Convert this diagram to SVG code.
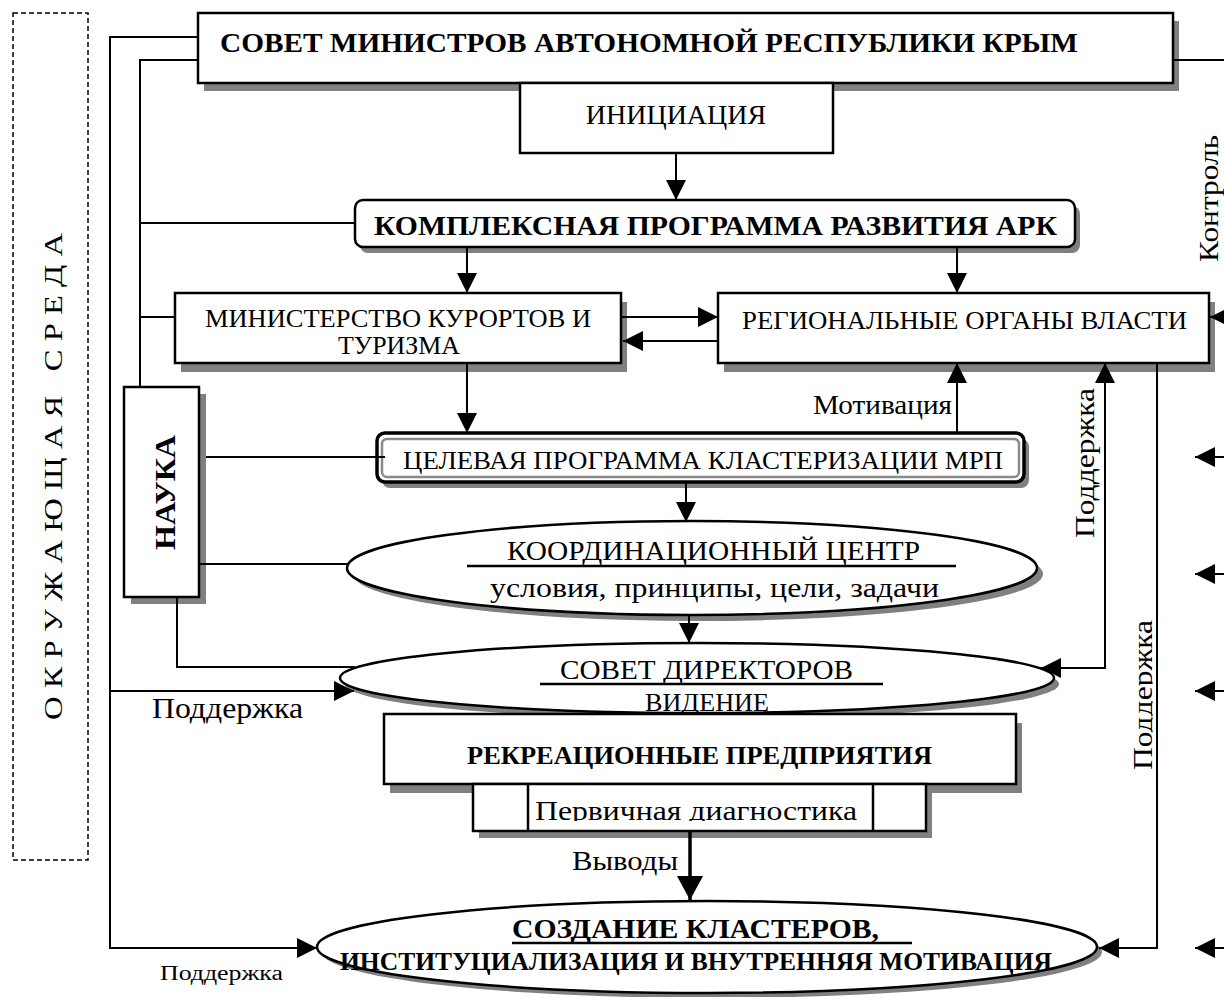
<svg xmlns="http://www.w3.org/2000/svg" width="1224" height="997" viewBox="0 0 1224 997">
<defs>
<style>
.t{font-family:"Liberation Serif","Times New Roman",serif;fill:#000}
.b{font-weight:bold}
.box{fill:#fff;stroke:#000;stroke-width:2.5}
.sh{fill:#808080}
.ln{fill:none;stroke:#000;stroke-width:2}
.ul{stroke:#000;stroke-width:2.5}
</style>
<marker id="ah" viewBox="0 0 20 20" refX="20" refY="10" markerWidth="20" markerHeight="20" markerUnits="userSpaceOnUse" orient="auto-start-reverse"><path d="M0,0 L20,10 L0,20 z" fill="#000"/></marker>
<marker id="ahb" viewBox="0 0 24 26" refX="24" refY="13" markerWidth="24" markerHeight="26" markerUnits="userSpaceOnUse" orient="auto"><path d="M0,0 L24,13 L0,26 z" fill="#000"/></marker>
<clipPath id="clipPerv"><rect x="528" y="784" width="345" height="37"/></clipPath>
<clipPath id="clipPod2"><rect x="1100" y="600" width="52.5" height="200"/></clipPath>
</defs>
<rect width="1224" height="997" fill="#fff"/>

<g id="env">
<rect x="13" y="13" width="75" height="847" fill="none" stroke="#000" stroke-width="1.5" stroke-dasharray="5,3"/>
<text class="t" transform="translate(62,720) rotate(-90)" font-size="26" textLength="487" lengthAdjust="spacingAndGlyphs" style="white-space:pre">О К Р У Ж А Ю Щ А Я   С Р Е Д А</text>
</g>

<g id="sovmin">
<rect class="sh" x="204" y="21" width="975" height="70"/>
<rect class="box" x="198" y="13" width="975" height="70"/>
<text class="t b" x="220" y="52" font-size="28" textLength="858" lengthAdjust="spacingAndGlyphs">СОВЕТ МИНИСТРОВ АВТОНОМНОЙ РЕСПУБЛИКИ КРЫМ</text>
</g>

<g id="init">
<rect class="box" x="520" y="83" width="313" height="70" stroke-width="2"/>
<text class="t" x="676" y="124" font-size="28" text-anchor="middle">ИНИЦИАЦИЯ</text>
</g>

<g id="kpr">
<rect class="sh" x="360" y="206" width="720" height="47" rx="8"/>
<rect class="box" x="355" y="200" width="720" height="47" rx="8"/>
<text class="t b" x="374" y="235" font-size="28" textLength="683" lengthAdjust="spacingAndGlyphs">КОМПЛЕКСНАЯ ПРОГРАММА РАЗВИТИЯ АРК</text>
</g>

<g id="ministry">
<rect class="sh" x="181" y="302" width="446" height="70"/>
<rect class="box" x="175" y="293" width="446" height="70"/>
<text class="t" x="205" y="327" font-size="25" textLength="386" lengthAdjust="spacingAndGlyphs">МИНИСТЕРСТВО КУРОРТОВ И</text>
<text class="t" x="338" y="354" font-size="25" textLength="122" lengthAdjust="spacingAndGlyphs">ТУРИЗМА</text>
</g>

<g id="regional">
<rect class="sh" x="724" y="302" width="491" height="70"/>
<rect class="box" x="718" y="293" width="491" height="70"/>
<text class="t" x="742" y="329" font-size="26" textLength="445" lengthAdjust="spacingAndGlyphs">РЕГИОНАЛЬНЫЕ ОРГАНЫ ВЛАСТИ</text>
</g>

<g id="nauka">
<rect class="sh" x="131" y="394" width="75" height="210"/>
<rect class="box" x="124" y="387" width="75" height="210"/>
<text class="t b" transform="translate(175,550) rotate(-90)" font-size="30" textLength="115" lengthAdjust="spacingAndGlyphs">НАУКА</text>
</g>

<g id="celevaya">
<rect class="sh" x="382" y="439" width="647" height="49" rx="8"/>
<rect x="377" y="433" width="647" height="49" rx="8" fill="#fff" stroke="#000" stroke-width="3.5"/>
<rect x="382" y="439" width="637" height="38" rx="5" fill="none" stroke="#8a8a8a" stroke-width="2.5"/>
<text class="t" x="403" y="469" font-size="26" textLength="600" lengthAdjust="spacingAndGlyphs">ЦЕЛЕВАЯ ПРОГРАММА КЛАСТЕРИЗАЦИИ МРП</text>
</g>

<g id="coord">
<ellipse class="sh" cx="698" cy="574" rx="345" ry="47"/>
<ellipse class="box" cx="692" cy="568" rx="345" ry="47" stroke-width="2"/>
<text class="t" x="507" y="560" font-size="28" textLength="413" lengthAdjust="spacingAndGlyphs">КООРДИНАЦИОННЫЙ ЦЕНТР</text>
<line class="ul" x1="467" y1="566" x2="956" y2="566"/>
<text class="t" x="490" y="597" font-size="28" textLength="449" lengthAdjust="spacingAndGlyphs">условия, принципы, цели, задачи</text>
</g>

<g id="sovdir">
<ellipse class="sh" cx="702" cy="684" rx="357" ry="35"/>
<ellipse class="box" cx="697" cy="678" rx="357" ry="35" stroke-width="2"/>
<text class="t" x="560" y="679" font-size="28" textLength="293" lengthAdjust="spacingAndGlyphs">СОВЕТ ДИРЕКТОРОВ</text>
<line class="ul" x1="540" y1="684" x2="883" y2="684"/>
<text class="t" x="645" y="711" font-size="26" textLength="124" lengthAdjust="spacingAndGlyphs">ВИДЕНИЕ</text>
</g>

<g id="rekr">
<rect class="sh" x="390" y="723" width="632" height="70"/>
<rect class="box" x="384" y="714" width="632" height="70"/>
<text class="t b" x="467" y="764" font-size="26" textLength="465" lengthAdjust="spacingAndGlyphs">РЕКРЕАЦИОННЫЕ ПРЕДПРИЯТИЯ</text>
</g>

<g id="perv">
<rect class="sh" x="479" y="791" width="453" height="47"/>
<rect class="box" x="473" y="784" width="453" height="47"/>
<line x1="528" y1="784" x2="528" y2="831" stroke="#000" stroke-width="2.5"/>
<line x1="873" y1="784" x2="873" y2="831" stroke="#000" stroke-width="2.5"/>
<text class="t" x="535" y="820" font-size="28" textLength="322" lengthAdjust="spacingAndGlyphs" clip-path="url(#clipPerv)">Первичная диагностика</text>
</g>

<g id="sozdanie">
<ellipse class="sh" cx="712" cy="952" rx="390" ry="46"/>
<ellipse class="box" cx="707" cy="947" rx="390" ry="46" stroke-width="2"/>
<text class="t b" x="512" y="938" font-size="28" textLength="367" lengthAdjust="spacingAndGlyphs">СОЗДАНИЕ КЛАСТЕРОВ,</text>
<line class="ul" x1="512" y1="943" x2="912" y2="943"/>
<text class="t b" x="340" y="970" font-size="25" textLength="712" lengthAdjust="spacingAndGlyphs">ИНСТИТУЦИАЛИЗАЦИЯ И ВНУТРЕННЯЯ МОТИВАЦИЯ</text>
</g>

<g id="connectors">
<path class="ln" d="M198,37 H110 V948 H317" marker-end="url(#ah)"/>
<path class="ln" d="M110,691 H354" marker-end="url(#ah)"/>
<path class="ln" d="M198,60 H140 V387"/>
<path class="ln" d="M140,223 H355"/>
<path class="ln" d="M140,317 H175"/>
<path class="ln" d="M676,153 V200" marker-end="url(#ah)"/>
<path class="ln" d="M467,247 V293" marker-end="url(#ah)"/>
<path class="ln" d="M957,247 V293" marker-end="url(#ah)"/>
<path class="ln" d="M621,317 H718" marker-end="url(#ah)"/>
<path class="ln" d="M718,341 H623" marker-end="url(#ah)"/>
<path class="ln" d="M467,363 V433" marker-end="url(#ah)"/>
<path class="ln" d="M957,433 V363" marker-end="url(#ah)"/>
<path class="ln" d="M1041,668 H1105 V363" marker-start="url(#ah)" marker-end="url(#ah)"/>
<path class="ln" d="M1157,363 V948 H1099" marker-end="url(#ah)"/>
<path class="ln" d="M206,457 H385"/>
<path class="ln" d="M199,564 H347"/>
<path class="ln" d="M177,597 V667 H355"/>
<path class="ln" d="M686,482 V522" marker-end="url(#ah)"/>
<path class="ln" d="M689,615 V643" marker-end="url(#ah)"/>
<path d="M690,831 V900" fill="none" stroke="#000" stroke-width="3.5" marker-end="url(#ahb)"/>
<path class="ln" d="M1173,60 H1224"/>
<path class="ln" d="M1224,317 H1210" marker-end="url(#ah)"/>
<path class="ln" d="M1224,457 H1195" marker-end="url(#ah)"/>
<path class="ln" d="M1224,574 H1195" marker-end="url(#ah)"/>
<path class="ln" d="M1224,691 H1195" marker-end="url(#ah)"/>
<path class="ln" d="M1224,948 H1195" marker-end="url(#ah)"/>
</g>

<g id="labels">
<text class="t" x="813" y="414" font-size="28" textLength="139" lengthAdjust="spacingAndGlyphs">Мотивация</text>
<text class="t" x="152" y="718" font-size="29" textLength="151" lengthAdjust="spacingAndGlyphs">Поддержка</text>
<text class="t" x="160" y="980" font-size="20" textLength="123" lengthAdjust="spacingAndGlyphs">Поддержка</text>
<text class="t" x="572" y="870" font-size="28" textLength="106" lengthAdjust="spacingAndGlyphs">Выводы</text>
<text class="t" transform="translate(1094,538) rotate(-90)" font-size="28" textLength="150" lengthAdjust="spacingAndGlyphs">Поддержка</text>
<g clip-path="url(#clipPod2)"><text class="t" transform="translate(1152,770) rotate(-90)" font-size="28" textLength="150" lengthAdjust="spacingAndGlyphs">Поддержка</text></g>
<text class="t" transform="translate(1218,262) rotate(-90)" font-size="28" textLength="127" lengthAdjust="spacingAndGlyphs">Контроль</text>
</g>
</svg>
